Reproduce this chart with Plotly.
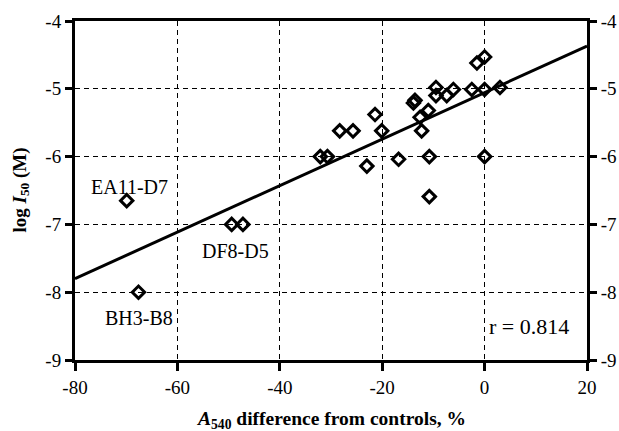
import plotly.graph_objects as go

# Data
x_vals = [0, -1.5, -9.5, -9.5, -7.4, -6.1, -2.5, 0, 3,
          -13.6, -13.9, -11.0, -12.6, -12.3,
          -21.4, -20.1, -28.3, -25.7,
          -32.1, -30.7, -23.0, -16.8, -10.8, 0, -10.8,
          -69.9, -49.4, -47.2, -67.6]
y_vals = [-4.53, -4.62, -4.98, -5.10, -5.10, -5.01, -5.01, -5.01, -4.98,
          -5.17, -5.21, -5.32, -5.42, -5.62,
          -5.38, -5.62, -5.62, -5.62,
          -6.00, -6.00, -6.14, -6.04, -6.00, -6.00, -6.59,
          -6.65, -7.00, -7.00, -8.00]

fit_x = [-80, 20]
fit_y = [-7.80, -4.37]

label_text = ["EA11-D7", "DF8-D5", "BH3-B8"]
label_x = [-69.3, -48.6, -67.5]
label_y = [-6.45, -7.39, -8.38]

r_text = "r = 0.814"

x_ticks = [-80, -60, -40, -20, 0, 20]
y_ticks = [-4, -5, -6, -7, -8, -9]

FONT = "Liberation Serif, Times New Roman, serif"

fig = go.Figure()
fig.add_trace(go.Scatter(x=fit_x, y=fit_y, mode="lines",
                         line=dict(color="black", width=3), showlegend=False))
fig.add_trace(go.Scatter(x=x_vals, y=y_vals, mode="markers",
                         marker=dict(symbol="diamond-open", size=9.5,
                                     line=dict(color="black", width=3), color="black"),
                         showlegend=False))
# trace bound to the right axis (same values, invisible) so it renders
fig.add_trace(go.Scatter(x=x_vals, y=y_vals, yaxis="y2", mode="markers",
                         marker=dict(opacity=0), hoverinfo="skip", showlegend=False))

for t, xx, yy in zip(label_text, label_x, label_y):
    fig.add_annotation(x=xx, y=yy, text=t, showarrow=False,
                       font=dict(family=FONT, size=20, color="black"))
fig.add_annotation(x=16.9, y=-8.5, text=r_text, showarrow=False, xanchor="right",
                   font=dict(family=FONT, size=22, color="black"))

# axis titles
fig.add_annotation(xref="paper", yref="paper", x=0.5, y=0, yshift=-60, yanchor="middle",
                   text="<b><i>A</i><sub>540</sub> difference from controls, %</b>",
                   showarrow=False, font=dict(family=FONT, size=19.5, color="black"))
fig.add_annotation(xref="paper", yref="paper", x=0, y=0.5, xshift=-55, xanchor="center",
                   textangle=-90,
                   text="<b>log <i>I</i><sub>50</sub> (M)</b>",
                   showarrow=False, font=dict(family=FONT, size=19, color="black"))

grid_common = dict(showgrid=True, gridcolor="black", gridwidth=1.2, griddash="5px,4px")

fig.update_layout(
    width=619, height=431,
    margin=dict(l=75, r=32, t=21, b=71, autoexpand=False),
    paper_bgcolor="white", plot_bgcolor="white",
    font=dict(family=FONT, size=19, color="black"),
    xaxis=dict(range=[-80, 20], tickvals=x_ticks, ticktext=[str(v) for v in x_ticks],
               showline=True, linecolor="black", linewidth=3, mirror=True,
               ticks="outside", ticklen=8, tickwidth=3, tickcolor="black", automargin=False,
               zeroline=False, tickfont=dict(family=FONT, size=19), **grid_common),
    yaxis=dict(range=[-9, -4], tickvals=y_ticks, ticktext=[str(v) for v in y_ticks],
               showline=True, linecolor="black", linewidth=3, automargin=False,
               ticks="outside", ticklen=7, tickwidth=3, tickcolor="black",
               zeroline=False, tickfont=dict(family=FONT, size=19), **grid_common),
    yaxis2=dict(range=[-9, -4], tickvals=y_ticks, ticktext=[str(v) for v in y_ticks],
                overlaying="y", side="right", showgrid=False, automargin=False,
                showline=True, linecolor="black", linewidth=3,
                ticks="outside", ticklen=7, tickwidth=3, tickcolor="black",
                zeroline=False, tickfont=dict(family=FONT, size=19)),
)

fig.write_html("out.html")
